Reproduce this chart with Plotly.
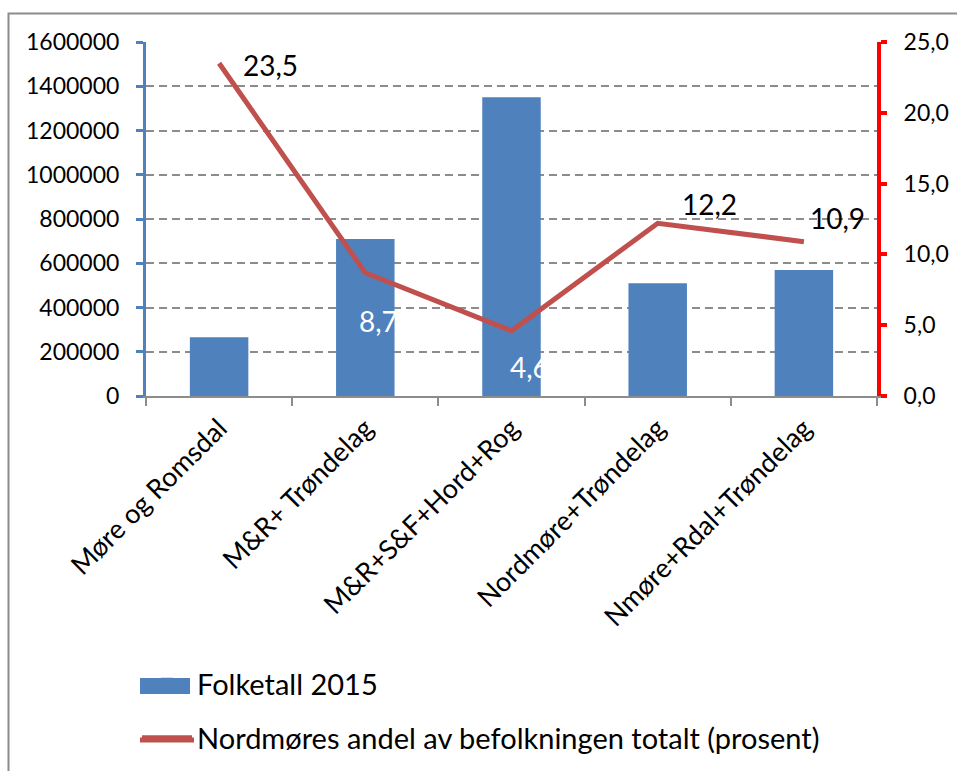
import plotly.graph_objects as go

categories = ["Møre og Romsdal", "M&R+ Trøndelag", "M&R+S&F+Hord+Rog",
              "Nordmøre+Trøndelag", "Nmøre+Rdal+Trøndelag"]
folketall = [265000, 710000, 1350000, 510000, 570000]
andel = [23.5, 8.7, 4.6, 12.2, 10.9]
bar_name = "Folketall 2015"
line_name = "Nordmøres andel av befolkningen totalt (prosent)"

FONT = "Lato"
BLUE = "#4F81BD"
RED_LINE = "#C0504D"
GRID = "#8C8C8C"

# plot-area geometry in px (for converting legend/border positions to paper)
L, R, T, B, W, H = 146, 877, 42, 396, 957, 771
def px(xp):
    return (xp - L) / (R - L)
def py(yp):
    return (B - yp) / (B - T)

fig = go.Figure()
fig.add_trace(go.Bar(x=categories, y=folketall, name=bar_name,
                     marker=dict(color=BLUE, line=dict(width=0)),
                     legend="legend"))
fig.add_trace(go.Scatter(x=categories, y=andel, name=line_name, yaxis="y2",
                         mode="lines", line=dict(color=RED_LINE, width=5),
                         legend="legend2"))

# data labels (offsets in px)
label_style = [
    (51, -2, "black"),
    (13, -48, "white"),
    (18, -36, "white"),
    (52, 19, "black"),
    (34, 24, "black"),
]
for cat, v, (dx, dy, col) in zip(categories, andel, label_style):
    fig.add_annotation(x=cat, y=v, xref="x", yref="y2",
                       text=f"{v:.1f}".replace(".", ","), showarrow=False,
                       xshift=dx, yshift=dy,
                       font=dict(family=FONT, size=28, color=col))

# outer chart border (right and bottom edges lie outside the picture)
fig.add_shape(type="rect", xref="paper", yref="paper",
              x0=px(8.5), x1=px(1010), y0=py(830), y1=py(13.5),
              line=dict(color="#8C8C8C", width=2), layer="below")
# enlarged legend keys
fig.add_shape(type="rect", xref="paper", yref="paper",
              x0=px(140), x1=px(190), y0=py(694), y1=py(678),
              fillcolor=BLUE, line=dict(width=0), layer="above")
fig.add_shape(type="line", xref="paper", yref="paper",
              x0=px(140), x1=px(194), y0=py(740), y1=py(740),
              line=dict(color=RED_LINE, width=5), layer="above")

fig.update_layout(
    width=W, height=H, autosize=False,
    margin=dict(l=L, r=W - R, t=T, b=H - B, autoexpand=False),
    paper_bgcolor="white", plot_bgcolor="white",
    separators=", ",
    bargap=0.6,
    font=dict(family=FONT, size=23, color="black"),
    xaxis=dict(type="category", tickangle=-45, tickson="boundaries",
               ticks="outside", ticklen=8, tickwidth=1.5, tickcolor=GRID,
               showline=True, linecolor=GRID, linewidth=1.5,
               showgrid=False, tickfont=dict(size=27), automargin=False,
               ticklabelstandoff=4),
    yaxis=dict(range=[0, 1600000], dtick=200000, tickformat="d",
               showline=True, linecolor=BLUE, linewidth=3,
               ticks="outside", ticklen=7, tickwidth=3, tickcolor=BLUE,
               showgrid=True, gridcolor=GRID, gridwidth=1.5,
               griddash="8px,5px", zeroline=False,
               tickfont=dict(size=23), automargin=False,
               ticklabelstandoff=12),
    yaxis2=dict(range=[0, 25], dtick=5, tickformat=".1f", overlaying="y",
                side="right", showline=True, linecolor="#FF0000", linewidth=4,
                ticks="outside", ticklen=6, tickwidth=4, tickcolor="#FF0000",
                showgrid=False, zeroline=False, tickfont=dict(size=23),
                automargin=False, ticklabelstandoff=12),
    legend=dict(x=px(137), y=py(684), xanchor="left", yanchor="middle",
                font=dict(size=29), bgcolor="rgba(0,0,0,0)", itemwidth=50),
    legend2=dict(x=px(137), y=py(738), xanchor="left", yanchor="middle",
                 font=dict(size=29), bgcolor="rgba(0,0,0,0)", itemwidth=50),
    showlegend=True,
)

fig.write_html("out.html",
               config={"displayModeBar": False, "responsive": False},
               post_script="document.body.style.margin='0';"
                           "document.body.style.overflow='hidden';")
